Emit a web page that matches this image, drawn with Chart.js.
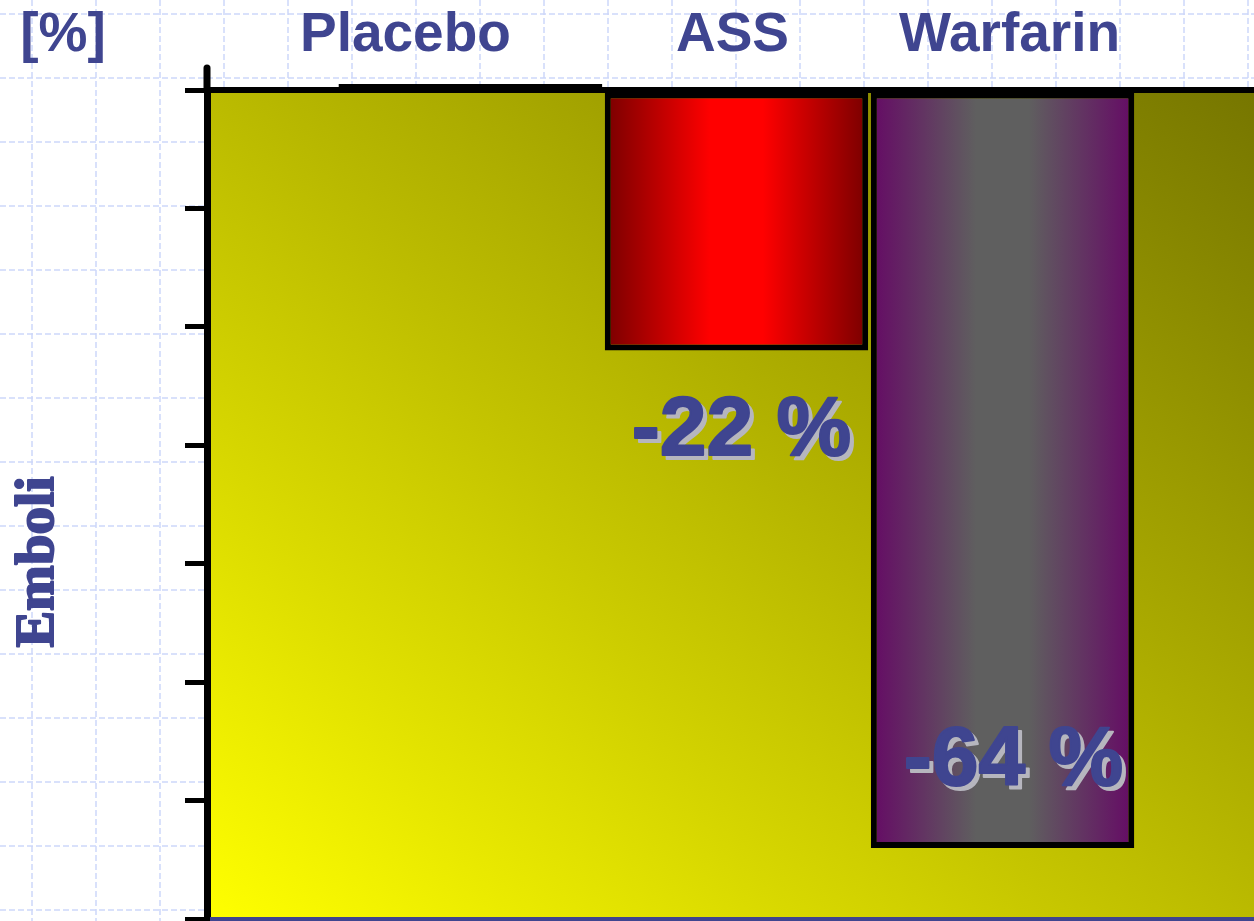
<!DOCTYPE html>
<html>
<head>
<meta charset="utf-8">
<title>Emboli</title>
<script src="https://cdn.jsdelivr.net/npm/chart.js@4.4.1/dist/chart.umd.min.js"></script>
<style>
  html, body { margin: 0; padding: 0; background: #fff; overflow: hidden; }
  canvas { display: block; }
</style>
</head>
<body>
<canvas id="emboliChart" width="1254" height="921"></canvas>
<script>
// Relative reduction of emboli against placebo, in percent
const categories = ['Placebo', 'ASS', 'Warfarin'];
const reduction = [0, 22, 64];
const yTicks = [0, 10, 20, 30, 40, 50, 60, 70];

const INK = '#3f4590';
const BAR_PCT = 0.99;

// edge / centre colour of each bar's horizontal gradient
const barShades = [
    ['#c8c800', '#c8c800'],
    ['#780000', '#ff0000'],
    ['#650a65', '#5f5f5f']
];

function barFill(ctx) {
    const chart = ctx.chart;
    const xs = chart.scales.x;
    const [edge, mid] = barShades[ctx.dataIndex];
    if (!xs || !ctx.parsed) return edge;
    const cx = xs.getPixelForValue(ctx.parsed.x);
    const half = (xs.getPixelForValue(2) - xs.getPixelForValue(1)) * BAR_PCT / 2;
    if (!isFinite(cx) || !isFinite(half) || half <= 0) return edge;
    const g = chart.ctx.createLinearGradient(cx - half, 0, cx + half, 0);
    g.addColorStop(0, edge);
    g.addColorStop(0.4, mid);
    g.addColorStop(0.6, mid);
    g.addColorStop(1, edge);
    return g;
}

// label text nudges relative to the bar centre / bar end, px
const labelNudge = [null, [5, 104], [11, -63]];
const headerNudge = [-65, -4, 7];

// fill text and thicken it a little with a matching stroke
function heavyText(ctx, txt, x, y, color, weight) {
    ctx.fillStyle = color;
    ctx.strokeStyle = color;
    ctx.lineWidth = weight;
    ctx.lineJoin = 'round';
    ctx.fillText(txt, x, y);
    if (weight > 0) ctx.strokeText(txt, x, y);
}

const backdrop = {
    id: 'backdrop',
    beforeDraw(chart) {
        const { ctx, width, height, chartArea: a } = chart;
        ctx.save();
        ctx.fillStyle = '#fff';
        ctx.fillRect(0, 0, width, height);

        // dashed squared paper behind everything
        ctx.strokeStyle = 'rgba(196, 208, 248, 0.85)';
        ctx.lineWidth = 1.5;
        ctx.setLineDash([6, 3]);
        ctx.beginPath();
        for (let x = 32; x < width; x += 64) { ctx.moveTo(x, 0); ctx.lineTo(x, height); }
        for (let y = 14; y < height; y += 64) { ctx.moveTo(0, y); ctx.lineTo(width, y); }
        ctx.stroke();
        ctx.setLineDash([]);

        // diagonal yellow-to-olive plot area
        const w = a.right - a.left, h = a.bottom - a.top;
        const cx = a.left + w / 2, cy = a.top + h / 2;
        const len = Math.hypot(w, h);
        const dx = h / len, dy = -w / len;
        const L = w * h / len;
        const g = ctx.createLinearGradient(cx - dx * L, cy - dy * L, cx + dx * L, cy + dy * L);
        g.addColorStop(0, '#ffff00');
        g.addColorStop(1, '#767600');
        ctx.fillStyle = g;
        ctx.fillRect(a.left, a.top, w, h);
        ctx.restore();
    },
    afterDraw(chart) {
        const { ctx, chartArea: a, scales } = chart;
        ctx.save();

        // blue base line and axis stub above the plot
        ctx.strokeStyle = INK;
        ctx.lineWidth = 4;
        ctx.beginPath();
        ctx.moveTo(a.left + 3, a.bottom);
        ctx.lineTo(a.right, a.bottom);
        ctx.stroke();

        ctx.strokeStyle = '#000';
        ctx.lineWidth = 7;
        ctx.lineCap = 'round';
        ctx.beginPath();
        ctx.moveTo(a.left, 68);
        ctx.lineTo(a.left, a.top);
        ctx.stroke();
        ctx.lineCap = 'butt';

        // placebo column sits on the zero line
        const meta = chart.getDatasetMeta(0);
        const pb = meta.data[0];
        ctx.fillStyle = '#000';
        ctx.fillRect(pb.x - pb.width / 2, a.top - 6, pb.width, 6);

        // column headers
        ctx.font = 'bold 55px "Liberation Sans", Arial, sans-serif';
        ctx.textAlign = 'center';
        ctx.textBaseline = 'alphabetic';
        heavyText(ctx, '[%]', 63, 51, INK, 0);
        categories.forEach((c, i) => {
            heavyText(ctx, c, scales.x.getPixelForValue(i + 1) + headerNudge[i], 51, INK, 0);
        });

        // reduction labels with drop shadow
        ctx.font = 'bold 84px "Liberation Sans", Arial, sans-serif';
        reduction.forEach((v, i) => {
            if (!labelNudge[i]) return;
            const bar = meta.data[i];
            const tx = bar.x + labelNudge[i][0];
            const ty = bar.y + labelNudge[i][1];
            const txt = '-' + v + ' %';
            heavyText(ctx, txt, tx + 4, ty + 4, '#b6b6be', 2);
            heavyText(ctx, txt, tx, ty, INK, 2);
        });

        // vertical axis title
        ctx.translate(53, 562);
        ctx.rotate(-Math.PI / 2);
        ctx.font = 'bold 55px "Liberation Serif", "Times New Roman", serif';
        heavyText(ctx, 'Emboli', 0, 0, INK, 2);
        ctx.restore();
    }
};

new Chart(document.getElementById('emboliChart'), {
    type: 'bar',
    data: {
        datasets: [{
            data: categories.map((c, i) => ({ x: i + 1, y: reduction[i] })),
            backgroundColor: barFill,
            borderColor: '#000',
            borderWidth: 6,
            borderSkipped: false,
            barPercentage: BAR_PCT,
            categoryPercentage: 1
        }]
    },
    options: {
        responsive: false,
        animation: false,
        layout: { padding: { top: 0, left: 0, right: 0, bottom: 2 } },
        plugins: {
            legend: { display: false },
            tooltip: { enabled: false }
        },
        scales: {
            x: {
                type: 'linear',
                position: 'top',
                min: 0.01,
                max: 3.945,
                offset: false,
                ticks: { display: false, stepSize: 1, includeBounds: false },
                grid: { display: false },
                border: { display: true, color: '#000', width: 6 },
                afterFit(scale) { scale.height = 90; }
            },
            y: {
                reverse: true,
                min: yTicks[0],
                max: yTicks[yTicks.length - 1],
                ticks: { display: false, stepSize: yTicks[1] - yTicks[0] },
                grid: {
                    display: true,
                    drawOnChartArea: false,
                    drawTicks: true,
                    tickLength: 22,
                    color: '#000',
                    lineWidth: 5
                },
                border: { display: true, color: '#000', width: 7 },
                afterFit(scale) { scale.width = 207; }
            }
        }
    },
    plugins: [backdrop]
});
</script>
</body>
</html>
